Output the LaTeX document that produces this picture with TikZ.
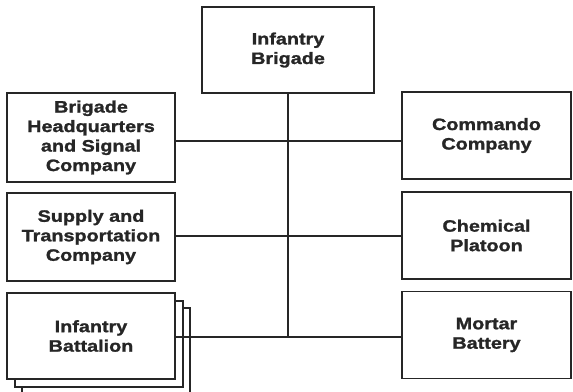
\documentclass[tikz,border=0pt]{standalone}
\usepackage{fontspec}
\newfontfamily\orgfont{Liberation Sans}[FakeStretch=1.2,FakeBold=1.4]
\usetikzlibrary{positioning}

\begin{document}
\begin{tikzpicture}[x=1pt,y=-1pt,
    unit/.style={draw=black!85,line width=1.8pt,fill=white,inner sep=2pt,align=center,
      font=\orgfont\bfseries\fontsize{16.5}{19.5}\selectfont,text=black!85},
    link/.style={draw=black!85,line width=2.6pt}]
  \useasboundingbox (0,0) rectangle (573,391);
  \node[unit,minimum width=172pt,minimum height=86pt] (bde) at (288,50) {Infantry\\Brigade};
  \foreach \d in {15,8}{
    \node[unit,minimum width=168pt,minimum height=86pt] at (91+\d,336+\d) {};
  }
  \node[unit,minimum width=168pt,minimum height=89pt] (hq) at (91,137.5) {Brigade\\Headquarters\\and Signal\\Company};
  \node[unit,minimum width=168pt,minimum height=88pt] (sup) at (91,237) {Supply and\\Transportation\\Company};
  \node[unit,minimum width=168pt,minimum height=86pt] (bn) at (91,336) {Infantry\\Battalion};
  \node[unit,minimum width=169pt,minimum height=87pt] (cdo) at (486.5,135.5) {Commando\\Company};
  \node[unit,minimum width=169pt,minimum height=87pt] (chem) at (486.5,235.5) {Chemical\\Platoon};
  \node[unit,minimum width=169pt,minimum height=87pt] (mor) at (486.5,335) {Mortar\\Battery};
  \coordinate (j1) at (287,141);
  \coordinate (j2) at (287,236);
  \coordinate (j3) at (287,337);
  \draw[link] (bde.south) -- (bde.south |- j3);
  \draw[link] (hq.east |- j1) -- (cdo.west |- j1);
  \draw[link] (sup.east |- j2) -- (chem.west |- j2);
  \draw[link] (bn.east |- j3) -- (mor.west |- j3);
\end{tikzpicture}
\end{document}
